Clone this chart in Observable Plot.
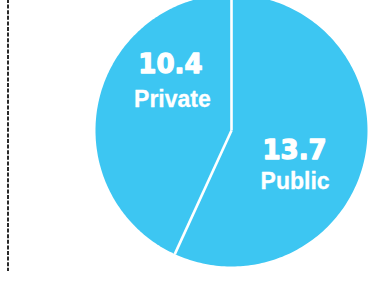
<!DOCTYPE html>
<html><head><meta charset="utf-8">
<script src="https://cdn.jsdelivr.net/npm/d3@7"></script>
<script src="https://cdn.jsdelivr.net/npm/@observablehq/plot@0.6"></script>
<style>body{margin:0;background:#fff}#chart svg{display:block}</style>
</head><body><div id="chart"></div>
<script>
const categories = ["Public", "Private"];
const values = [13.7, 10.4];
const valueLabels = ["13.7", "10.4"];

const data = categories.map((name, i) => ({name, value: values[i], label: valueLabels[i]}));
const arcs = d3.pie().value(d => d.value).sort(null)(data);

// slice outlines in radius units (angle measured clockwise from 12 o'clock)
const outline = [];
arcs.forEach(s => {
  const n = 180;
  outline.push({name: s.data.name, x: 0, y: 0});
  for (let k = 0; k <= n; k++) {
    const a = s.startAngle + (s.endAngle - s.startAngle) * k / n;
    outline.push({name: s.data.name, x: Math.sin(a), y: Math.cos(a)});
  }
  outline.push({name: s.data.name, x: 0, y: 0});
});
const separators = arcs.map(s => ({x1: 0, y1: 0, x2: Math.sin(s.startAngle), y2: Math.cos(s.startAngle)}));
const labelPos = arcs.map(s => {
  const m = (s.startAngle + s.endAngle) / 2;
  return {name: s.data.name, label: s.data.label, x: 0.55 * Math.sin(m), y: 0.55 * Math.cos(m)};
});

const numFont = {fontFamily: "DejaVu Sans", fontSize: 26, fontWeight: "bold", fill: "white", stroke: "white", strokeWidth: 1.3};
const nameFont = {fontFamily: "Liberation Sans", fontSize: 23, fontWeight: "bold", fill: "white", stroke: "white", strokeWidth: 0.3};
const pick = n => labelPos.filter(d => d.name === n);

const chart = Plot.plot({
  width: 384,
  height: 283,
  marginLeft: 8, marginRight: 0, marginTop: 0, marginBottom: 13,
  x: {domain: [-1, 1], range: [95, 367], axis: null},
  y: {domain: [-1, 1], range: [266, -6], axis: null},
  marks: [
    Plot.frame({anchor: "left", stroke: "#2a2a2a", strokeWidth: 2, strokeDasharray: "2,3.6", dx: -0.5, dy: -0.5}),
    Plot.line(outline, {x: "x", y: "y", z: "name", fill: "#3dc6f2", stroke: "none", curve: "linear"}),
    Plot.link(separators, {x1: "x1", y1: "y1", x2: "x2", y2: "y2", stroke: "white", strokeWidth: 2.6}),
    Plot.text(pick("Public"), {x: "x", y: "y", text: "label", dx: -10, dy: 4.5, ...numFont}),
    Plot.text(pick("Public"), {x: "x", y: "y", text: "name", dx: -9.5, dy: 35.5, ...nameFont}),
    Plot.text(pick("Private"), {x: "x", y: "y", text: "label", dx: 12, dy: -49.5, ...numFont}),
    Plot.text(pick("Private"), {x: "x", y: "y", text: "name", dx: 14, dy: -15, ...nameFont})
  ]
});
document.getElementById("chart").appendChild(chart);
</script>
</body></html>
